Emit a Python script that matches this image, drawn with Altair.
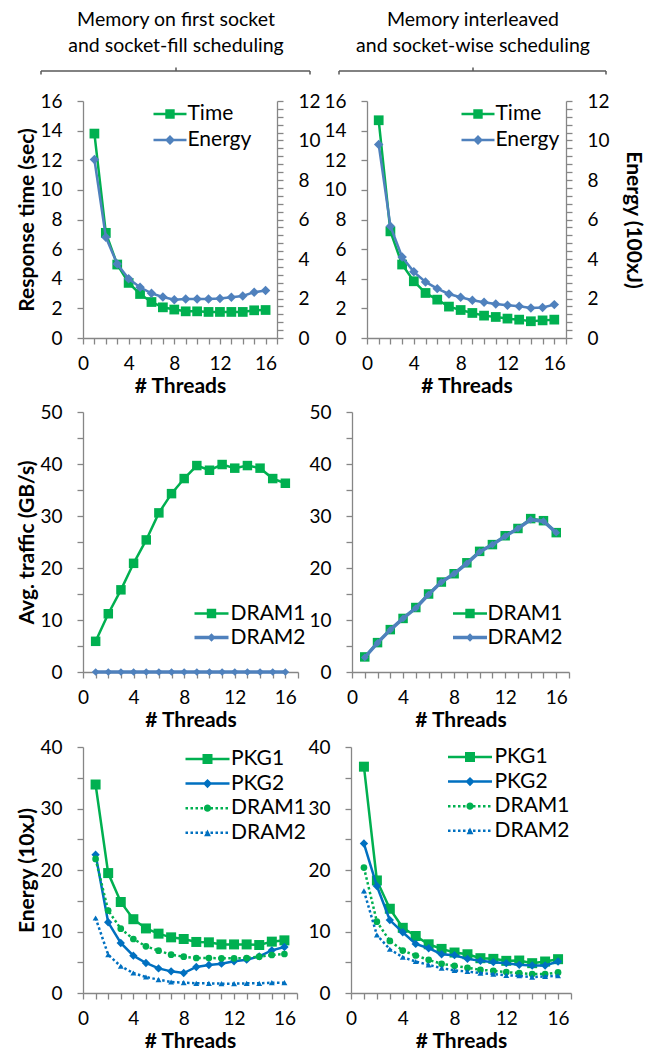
import altair as alt
import pandas as pd

FONT = "Lato"
GREEN = "#00B050"
STEEL = "#4F81BD"
BLUE = "#0070C0"
AXIS_GRAY = "#868686"
BRACKET = "#595959"

TICK_FS = 19
TITLE_FS = 21
LEGEND_FS = 21
HEADER_FS = 19.5

# ---------------- data ----------------
threads = list(range(1, 17))

header_left = ["Memory on first socket", "and socket-fill scheduling"]
header_right = ["Memory interleaved", "and socket-wise scheduling"]

# Row 1: response time (sec, left axis) and energy (100xJ, right axis)
time_first = [13.8, 7.1, 4.96, 3.72, 2.97, 2.43, 2.07, 1.92, 1.8, 1.8, 1.76, 1.76, 1.76, 1.76, 1.87, 1.89]
energy_first = [9.04, 5.1, 3.75, 3.0, 2.57, 2.26, 2.08, 1.94, 1.98, 1.98, 1.98, 2.0, 2.06, 2.13, 2.32, 2.4]
time_inter = [14.7, 7.2, 4.96, 3.83, 3.04, 2.59, 2.12, 1.89, 1.69, 1.51, 1.42, 1.31, 1.24, 1.13, 1.19, 1.24]
energy_inter = [9.8, 5.66, 4.1, 3.35, 2.84, 2.5, 2.23, 2.06, 1.91, 1.81, 1.72, 1.66, 1.61, 1.52, 1.55, 1.69]

# Row 2: average traffic (GB/s)
traffic_dram1_first = [5.9, 11.2, 15.8, 20.9, 25.4, 30.6, 34.3, 37.2, 39.7, 38.8, 39.9, 39.2, 39.7, 39.2, 37.2, 36.3]
traffic_dram2_first = [0.0, 0.0, 0.0, 0.0, 0.0, 0.0, 0.0, 0.0, 0.0, 0.0, 0.0, 0.0, 0.0, 0.0, 0.0, 0.0]
traffic_dram1_inter = [2.9, 5.65, 8.15, 10.3, 12.4, 15.0, 17.3, 18.9, 21.0, 23.2, 24.5, 26.2, 27.6, 29.5, 29.1, 26.8]
traffic_dram2_inter = [2.8, 5.6, 8.1, 10.3, 12.3, 14.9, 17.3, 18.9, 20.9, 23.1, 24.5, 26.1, 27.6, 29.3, 29.0, 26.8]

# Row 3: energy (10xJ)
pkg1_first = [33.9, 19.5, 14.8, 12.0, 10.5, 9.65, 9.05, 8.78, 8.3, 8.24, 7.9, 7.9, 7.9, 7.8, 8.35, 8.56]
pkg2_first = [22.5, 11.5, 8.13, 6.07, 4.88, 4.0, 3.52, 3.25, 4.23, 4.55, 4.77, 5.15, 5.42, 5.96, 6.94, 7.48]
dram1_first = [21.8, 13.4, 10.46, 8.78, 7.59, 6.88, 6.23, 5.9, 5.69, 5.69, 5.64, 5.64, 5.69, 5.9, 6.18, 6.34]
dram2_first = [12.2, 6.23, 4.34, 3.25, 2.6, 2.17, 1.79, 1.68, 1.57, 1.57, 1.52, 1.52, 1.57, 1.57, 1.68, 1.68]
pkg1_inter = [36.8, 18.3, 13.7, 10.6, 9.27, 7.92, 7.17, 6.58, 6.3, 5.66, 5.55, 5.23, 5.28, 4.85, 5.12, 5.5]
pkg2_inter = [24.3, 17.4, 11.86, 9.87, 7.98, 7.28, 6.3, 6.15, 5.55, 5.23, 5.01, 4.85, 4.58, 4.47, 4.47, 5.12]
dram1_inter = [20.4, 11.6, 8.46, 6.9, 6.1, 5.39, 4.74, 4.42, 4.1, 3.77, 3.61, 3.4, 3.23, 3.07, 3.07, 3.34]
dram2_inter = [16.6, 9.43, 7.12, 5.82, 5.12, 4.58, 4.04, 3.67, 3.5, 3.23, 3.07, 2.86, 2.8, 2.59, 2.7, 2.8]

# axis ticks / labels
x_ticks = list(range(0, 18))
time_ticks = list(range(0, 17, 2))
energy100_ticks = [round(i * 0.4, 1) for i in range(31)]
traffic_ticks = list(range(0, 51, 5))
energy10_ticks = list(range(0, 41, 5))

# ---------------- helpers ----------------
U = 5.0  # px per custom-path unit at legend symbolSize 100


def f(v):
    return f"{v / U:.3f}"


def p_solid(half_len, thick):
    a, t = half_len, thick / 2
    return f"M{f(-a)},{f(-t)}H{f(a)}V{f(t)}H{f(-a)}Z"


def p_dotted(half_len, thick, dot, period):
    t = thick / 2
    parts = []
    x = -half_len
    while x + dot <= half_len + 0.01:
        parts.append(f"M{f(x)},{f(-t)}H{f(x + dot)}V{f(t)}H{f(x)}Z")
        x += period
    return "".join(parts)


def p_square(h):
    return f"M{f(-h)},{f(-h)}H{f(h)}V{f(h)}H{f(-h)}Z"


def p_diamond(h):
    return f"M0,{f(-h)}L{f(h)},0L0,{f(h)}L{f(-h)},0Z"


def p_circle(r):
    return f"M{f(r)},0A{f(r)},{f(r)} 0 1,1 {f(-r)},0A{f(r)},{f(r)} 0 1,1 {f(r)},0Z"


def p_triangle(h):
    return f"M0,{f(-h)}L{f(h)},{f(h)}L{f(-h)},{f(h)}Z"


def x_axis():
    return alt.Axis(values=x_ticks, labelExpr="datum.value % 4 === 0 ? datum.label : ''",
                    title="# Threads", labelPadding=10, titlePadding=2,
                    labelOverlap=False, labelFlush=False)


def y_axis(values, step, title, orient="left", title_pad=2):
    expr = f"abs(datum.value / {step} - round(datum.value / {step})) < 0.001 ? datum.label : ''"
    kw = dict(values=values, labelExpr=expr, orient=orient, labelPadding=15, format=".0f",
              labelOverlap=False, labelFlush=False, titlePadding=title_pad)
    kw["title"] = title
    return alt.Axis(**kw)


def series(values, color, shape, msize, ydom, yax, width=2.5, dash=None):
    df = pd.DataFrame({"threads": threads, "value": values})
    mk = dict(color=color, strokeWidth=width,
              point=alt.OverlayMarkDef(shape=shape, size=msize, filled=True,
                                       color=color, opacity=1, strokeWidth=0))
    if dash:
        mk["strokeDash"] = dash
    return alt.Chart(df).mark_line(**mk).encode(
        x=alt.X("threads:Q", scale=alt.Scale(domain=[0, 17], nice=False, zero=False), axis=x_axis()),
        y=alt.Y("value:Q", scale=alt.Scale(domain=ydom, nice=False), axis=yax),
    )


def legend_layer(field, names, colors, paths, lx, ly, label_offset, row_pad):
    df = pd.DataFrame({field: names})
    leg = alt.Legend(title=None, orient="none", legendX=lx, legendY=ly,
                     labelFont=FONT, labelFontSize=LEGEND_FS, labelColor="black",
                     symbolSize=100, symbolStrokeWidth=0, symbolOpacity=1,
                     labelOffset=label_offset, rowPadding=row_pad, padding=0)
    return alt.Chart(df).mark_point(filled=True, opacity=1, size=100).encode(
        color=alt.Color(f"{field}:N", scale=alt.Scale(domain=names, range=colors), legend=leg),
        shape=alt.Shape(f"{field}:N", scale=alt.Scale(domain=names, range=paths), legend=leg),
    ).transform_filter("false")


def header_layers(lines, cx, x0, x1):
    base = alt.Chart(pd.DataFrame({"k": [0]}))
    tkw = dict(font=FONT, fontSize=HEADER_FS, baseline="middle", align="center", color="black")
    t1 = base.mark_text(**tkw).encode(x=alt.value(cx), y=alt.value(-81), text=alt.value(lines[0]))
    t2 = base.mark_text(**tkw).encode(x=alt.value(cx), y=alt.value(-55), text=alt.value(lines[1]))
    rule_kw = dict(color=BRACKET, strokeWidth=1.5)
    h = base.mark_rule(**rule_kw).encode(x=alt.value(x0), x2=alt.value(x1), y=alt.value(-30))
    tc = base.mark_rule(**rule_kw).encode(x=alt.value(cx), y=alt.value(-33.5), y2=alt.value(-30))
    tl = base.mark_rule(**rule_kw).encode(x=alt.value(x0), y=alt.value(-30), y2=alt.value(-26.5))
    tr = base.mark_rule(**rule_kw).encode(x=alt.value(x1), y=alt.value(-30), y2=alt.value(-26.5))
    return [t1, t2, h, tc, tl, tr]


# ---------------- panels ----------------
def top_panel(tvals, evals, width, left_title, right_title, field, lx, loff, hdr, cx, x0, x1):
    t = series(tvals, GREEN, "square", 95, [0, 16], y_axis(time_ticks, 2, left_title))
    e = series(evals, STEEL, "diamond", 90, [0, 12],
               y_axis(energy100_ticks, 2, right_title, orient="right", title_pad=13))
    leg = legend_layer(field, ["Time", "Energy"], [GREEN, STEEL],
                       [p_solid(16.5, 2.5) + p_square(4.7), p_solid(16.5, 2.5) + p_diamond(5)],
                       lx, 2.5, loff, 4)
    return alt.layer(t, e, leg, *header_layers(hdr, cx, x0, x1)).resolve_scale(
        y="independent").properties(width=width, height=237)


def mid_panel(d1, d2, width, title, field, lx, loff):
    ax = y_axis(traffic_ticks, 10, title)
    a = series(d1, GREEN, "square", 90, [0, 50], ax)
    b = series(d2, STEEL, "diamond", 60, [0, 50], ax, width=3.5)
    leg = legend_layer(field, ["DRAM1", "DRAM2"], [GREEN, STEEL],
                       [p_solid(17, 2.5) + p_square(4.7), p_solid(17, 3.5) + p_diamond(4.2)],
                       lx, 191, loff, 2)
    return alt.layer(a, b, leg).properties(width=width, height=260)


def bot_panel(p1, p2, d1, d2, width, title, field, lx, ly, loff):
    ax = y_axis(energy10_ticks, 10, title)
    a = series(p1, GREEN, "square", 100, [0, 40], ax)
    b = series(p2, BLUE, "diamond", 70, [0, 40], ax)
    c = series(d1, GREEN, "circle", 45, [0, 40], ax, dash=[2.5, 2.5])
    d = series(d2, BLUE, "triangle-up", 35, [0, 40], ax, dash=[2.5, 2.5])
    leg = legend_layer(field, ["PKG1", "PKG2", "DRAM1", "DRAM2"], [GREEN, BLUE, GREEN, BLUE],
                       [p_solid(22, 2.5) + p_square(5),
                        p_solid(22, 2.5) + p_diamond(4.6),
                        p_dotted(22, 2.5, 2.5, 5) + p_circle(3.6),
                        p_dotted(22, 2.5, 2.5, 5) + p_triangle(3.4)],
                       lx, ly, loff, 2.6)
    return alt.layer(a, b, c, d, leg).properties(width=width, height=246)


tl = top_panel(time_first, energy_first, 194, "Response time (sec)", None, "leg_tl",
               76.5, 7, header_left, 93, -42, 227)
tr = top_panel(time_inter, energy_inter, 199, None, "Energy (100xJ)", "leg_tr",
               100.5, 7, header_right, 106, -28, 239)
ml = mid_panel(traffic_dram1_first, traffic_dram2_first, 215, "Avg. traffic (GB/s)", "leg_ml", 118, 8.5)
mr = mid_panel(traffic_dram1_inter, traffic_dram2_inter, 217, None, "leg_mr", 107.5, 7)
bl = bot_panel(pkg1_first, pkg2_first, dram1_first, dram2_first, 214, "Energy (10xJ)", "leg_bl", 114, 1.5, 13)
br = bot_panel(pkg1_inter, pkg2_inter, dram1_inter, dram2_inter, 220, None, "leg_br", 108.5, -0.5, 14)


def row(a, b, sp):
    return alt.hconcat(a, b, spacing=sp, bounds="flush").resolve_scale(
        color="independent", shape="independent").resolve_legend(
        color="independent", shape="independent")


lower = alt.vconcat(row(ml, mr, 54), row(bl, br, 54), spacing=8).resolve_scale(
    color="independent", shape="independent").resolve_legend(
    color="independent", shape="independent")
chart = alt.vconcat(row(tl, tr, 90), lower, spacing=7)
chart = chart.resolve_scale(color="independent", shape="independent").resolve_legend(
    color="independent", shape="independent")
chart = chart.properties(padding={"left": 8, "top": 2, "right": 5, "bottom": 5})

chart = chart.configure_view(stroke=None).configure_axis(
    domainColor=AXIS_GRAY, tickColor=AXIS_GRAY, domainWidth=1.3, tickWidth=1.3, tickSize=6,
    labelColor="black", titleColor="black", labelFont=FONT, titleFont=FONT,
    labelFontSize=TICK_FS, titleFontSize=TITLE_FS, titleFontWeight="bold", grid=False,
)

chart.save("out.html", embed_options={"renderer": "svg", "actions": False})
